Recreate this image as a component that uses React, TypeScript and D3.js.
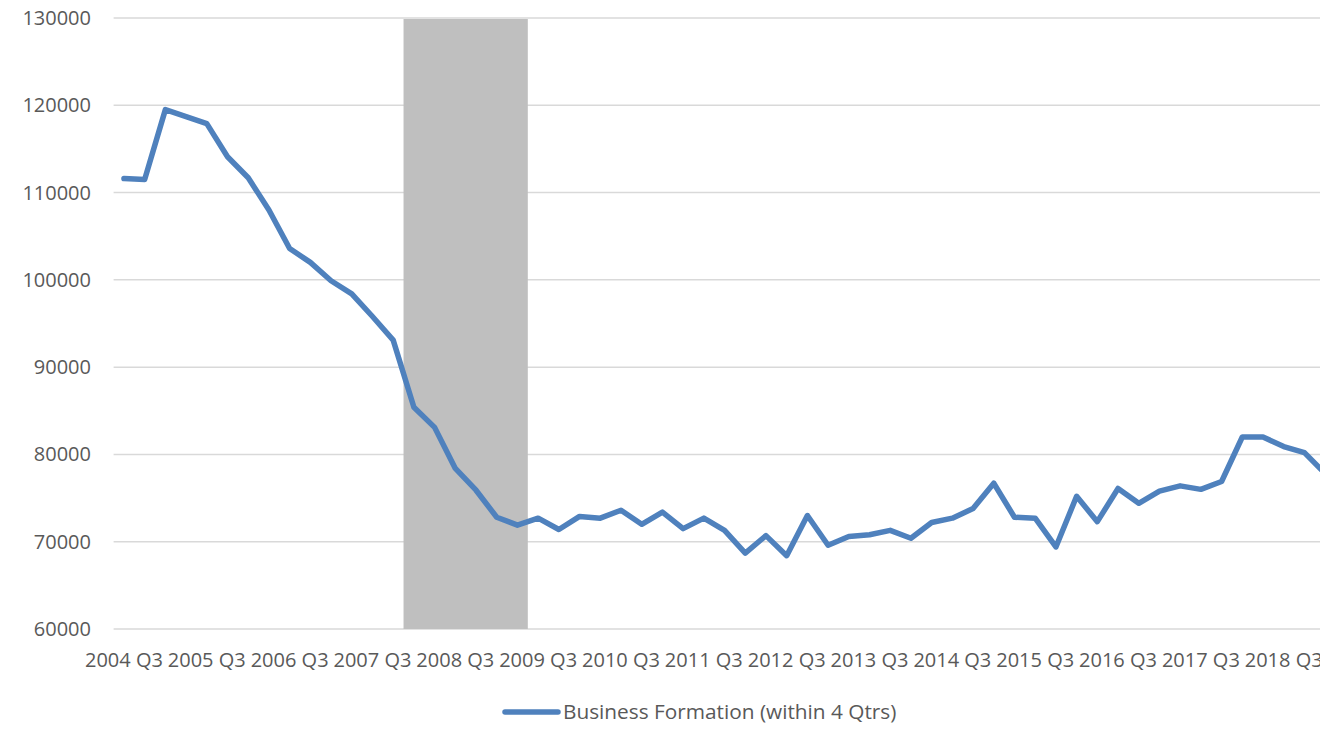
import React, { useEffect } from 'react';
import * as d3 from 'd3';

// quarterly series, starting 2004 Q3
const startYear = 2004;
const startQuarter = 3;
const values: number[] = [
  111600, 111500, 119500, 118700, 117900, 114100, 111700, 108000,
  103600, 102000, 99900, 98400, 95800, 93100, 85400, 83100,
  78400, 75900, 72800, 71900, 72700, 71400, 72900, 72700,
  73600, 72000, 73400, 71500, 72700, 71300, 68700, 70700,
  68400, 73000, 69600, 70600, 70800, 71300, 70400, 72200,
  72700, 73800, 76700, 72800, 72700, 69400, 75200, 72300,
  76100, 74400, 75800, 76400, 76000, 76900, 82000, 82000,
  80900, 80200, 77800,
];
const recessionQuarters = ['2008 Q1', '2008 Q2', '2008 Q3', '2008 Q4', '2009 Q1', '2009 Q2'];
const yTicks = [60000, 70000, 80000, 90000, 100000, 110000, 120000, 130000];
const seriesName = 'Business Formation (within 4 Qtrs)';

const categories = values.map((_, i) => {
  const q = startQuarter - 1 + i;
  return `${startYear + Math.floor(q / 4)} Q${(q % 4) + 1}`;
});
const tickLabels = categories.filter((c) => c.endsWith('Q3'));

const W = 1320;
const H = 729;
const font = '"Open Sans", sans-serif';
const textColor = '#595959';

const App: React.FC = () => {
  useEffect(() => {
    document.body.style.margin = '0';
  }, []);

  const step = 20.71;
  const left = 113.6;
  const x = d3.scaleBand<string>()
    .domain(categories)
    .range([left, left + step * categories.length])
    .padding(0);
  const y = d3.scaleLinear().domain([60000, 130000]).range([629, 18]);
  const cx = (c: string) => (x(c) ?? 0) + x.bandwidth() / 2;

  const line = d3.line<number>()
    .x((_, i) => cx(categories[i]))
    .y((d) => y(d));

  // recession shading spans whole category bands
  const bandX0 = x(recessionQuarters[0]) ?? 0;
  const bandX1 = (x(recessionQuarters[recessionQuarters.length - 1]) ?? 0) + x.bandwidth();

  return (
    <svg width={W} height={H} style={{ display: 'block', background: '#fff' }} fontFamily={font}>
      {yTicks.map((t) => (
        <line key={t} x1={left} x2={W} y1={y(t)} y2={y(t)} stroke="#d9d9d9" strokeWidth={1.5} />
      ))}
      <rect x={bandX0} y={y(130000) + 1} width={bandX1 - bandX0} height={y(60000) - y(130000) - 1} fill="#bfbfbf" />
      <path d={line(values) ?? ''} fill="none" stroke="#4f81bd" strokeWidth={5.5} strokeLinejoin="round" strokeLinecap="round" />
      {yTicks.map((t) => (
        <text key={t} x={91} y={y(t)} dy="0.35em" textAnchor="end" fontSize={20} fill={textColor}>
          {t}
        </text>
      ))}
      {tickLabels.map((c) => (
        <text key={c} x={cx(c)} y={660} dy="0.35em" textAnchor="middle" fontSize={20} fill={textColor}>
          {c}
        </text>
      ))}
      <line x1={505} x2={558} y1={712} y2={712} stroke="#4f81bd" strokeWidth={5.5} strokeLinecap="round" />
      <text x={563} y={712} dy="0.35em" fontSize={20.8} fill={textColor}>
        {seriesName}
      </text>
    </svg>
  );
};

export default App;
